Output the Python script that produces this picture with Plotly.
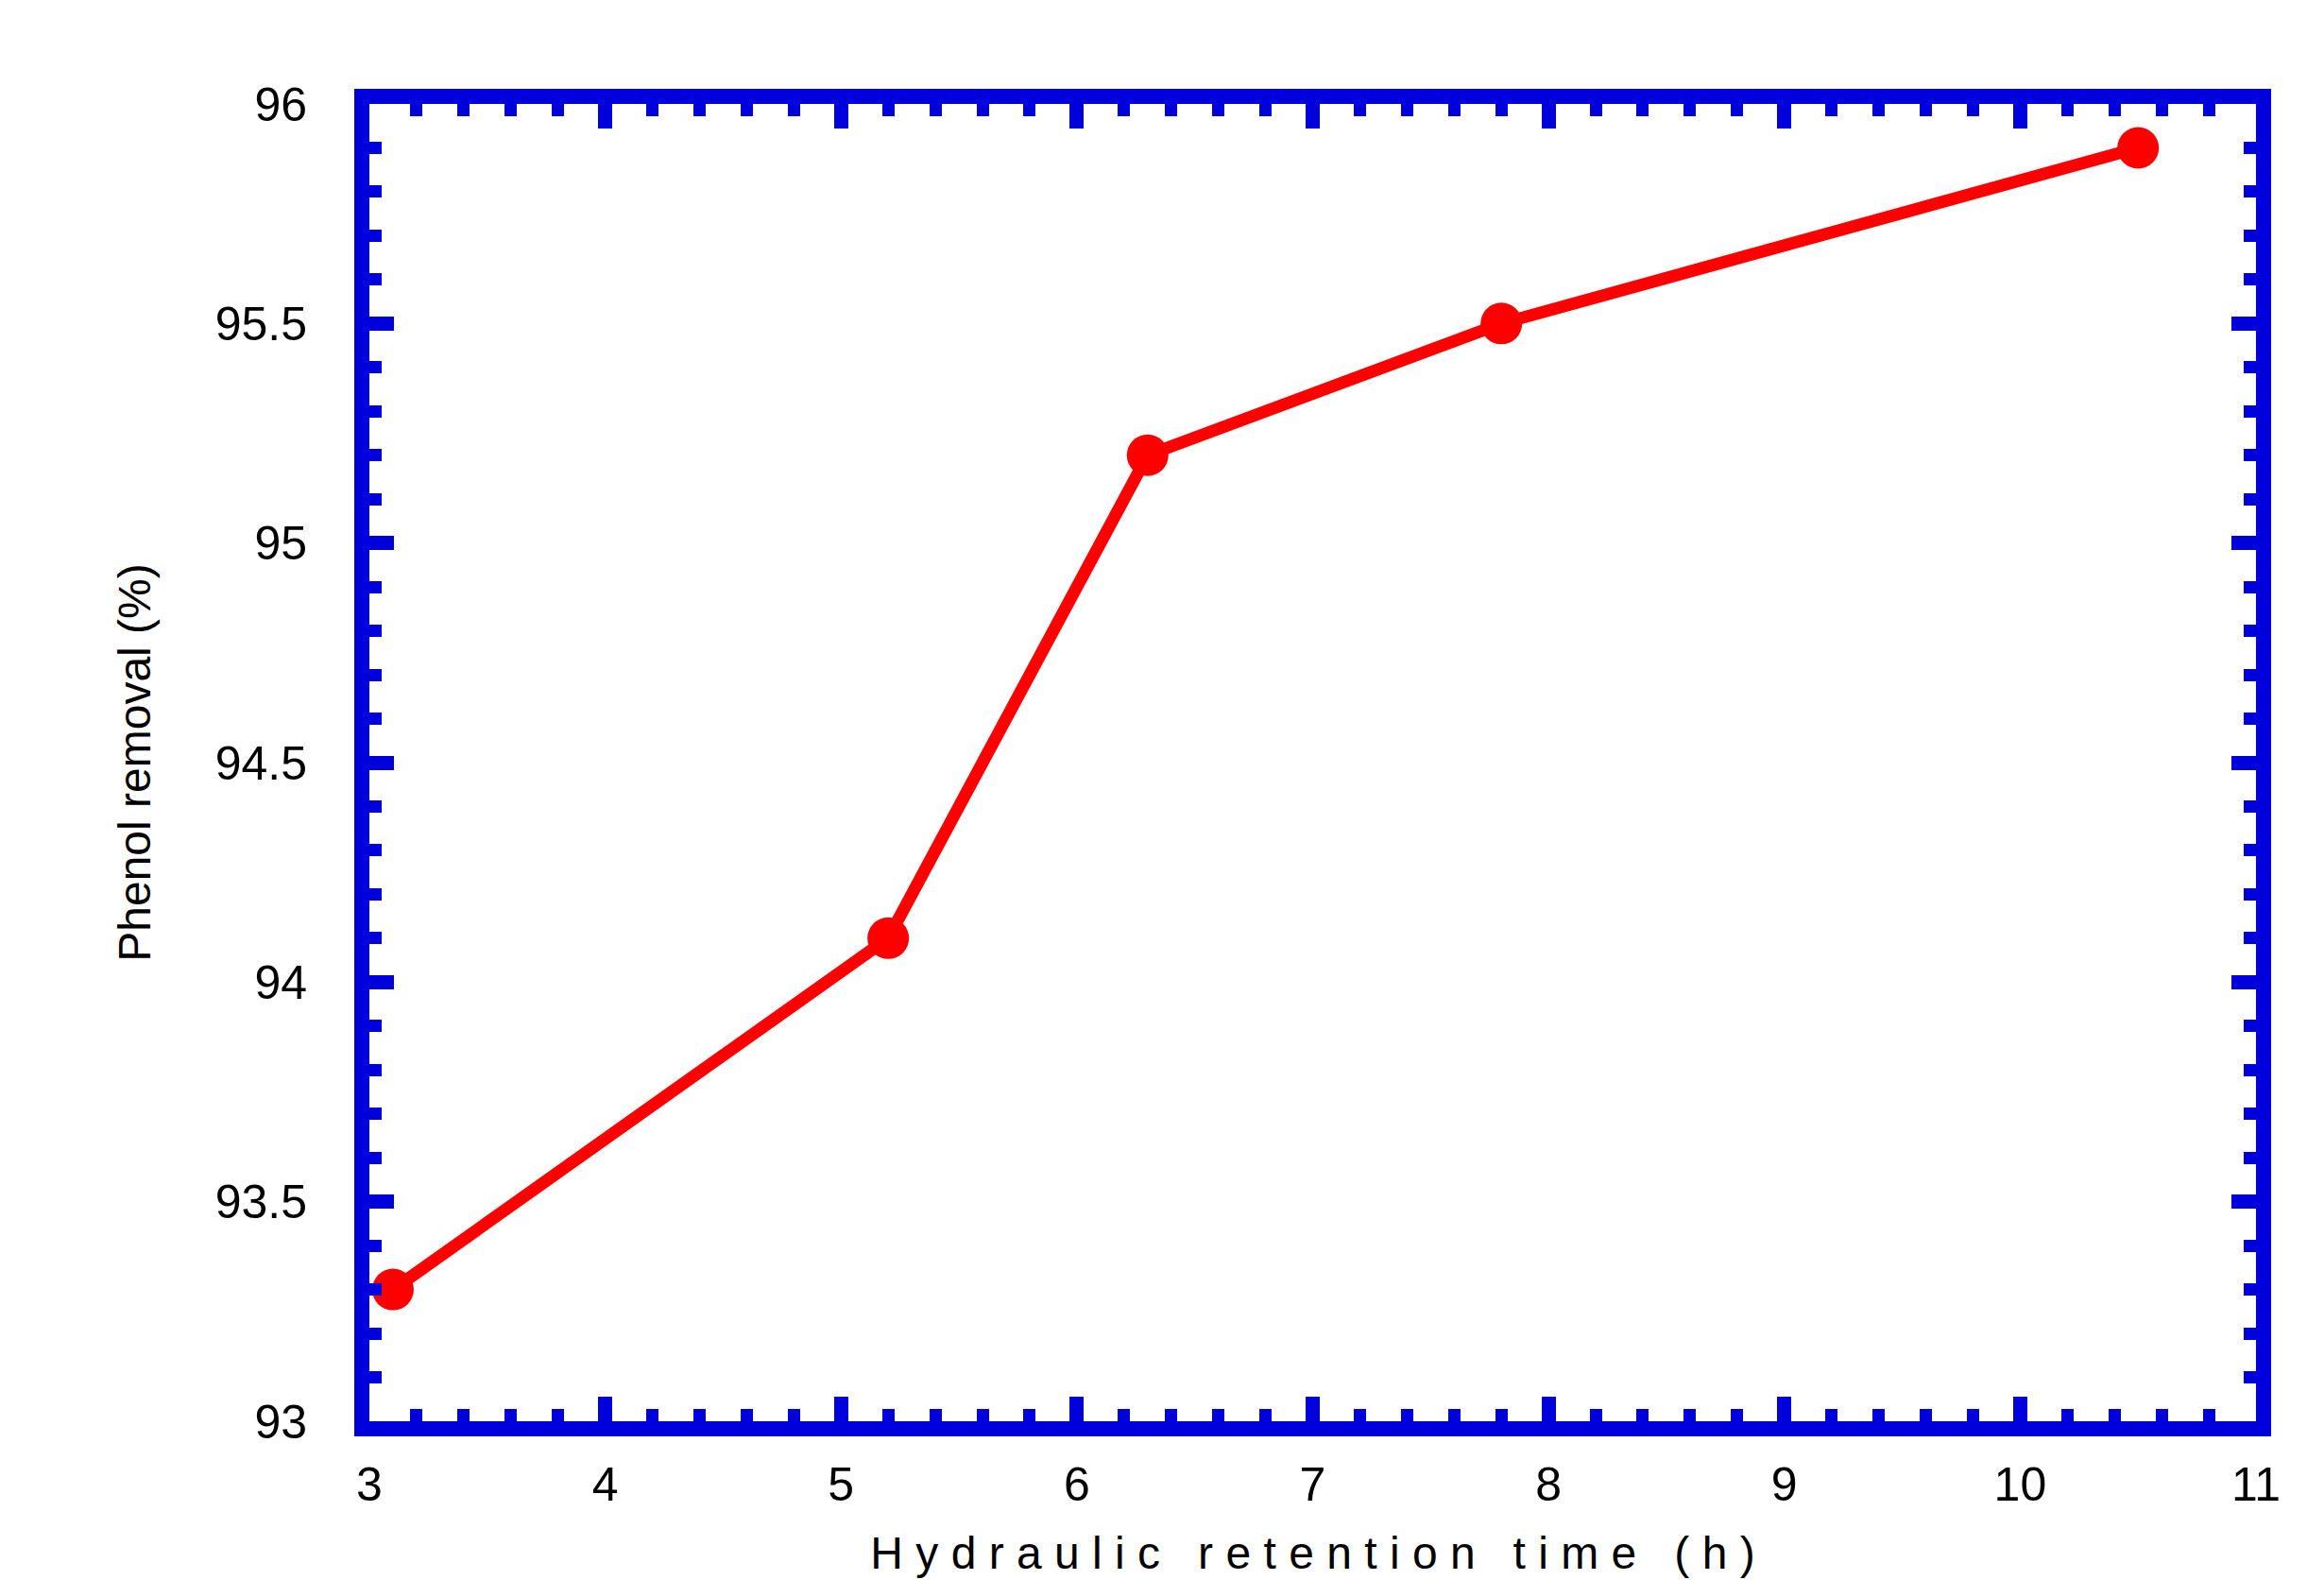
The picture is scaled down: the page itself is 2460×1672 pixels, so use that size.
import plotly.graph_objects as go

hrt = [3.1, 5.2, 6.3, 7.8, 10.5]
removal = [93.3, 94.1, 95.2, 95.5, 95.9]

blue = "#0000DD"
fig = go.Figure(go.Scatter(x=hrt, y=removal, mode="lines+markers",
                           line=dict(color="#FF0000", width=13),
                           marker=dict(color="#FF0000", size=44)))
tf = dict(family="Liberation Sans, Arial", size=50, color="black")
common = dict(showgrid=False, zeroline=False, showline=True, linecolor=blue, linewidth=16,
              mirror="allticks", ticks="inside", ticklen=26, tickwidth=15, tickcolor=blue,
              tickfont=tf)
fig.update_xaxes(range=[3, 11], dtick=1, ticklabelstandoff=8,
                 minor=dict(dtick=0.2, ticks="inside", ticklen=13, tickwidth=13, tickcolor=blue),
                 title=dict(text="H y d r a u l i c   r e t e n t i o n   t i m e   ( h )",
                            font=dict(family="Liberation Sans, Arial", size=48, color="black"),
                            standoff=35),
                 **common)
fig.update_yaxes(range=[93, 96], dtick=0.5, ticklabelstandoff=40,
                 minor=dict(dtick=0.1, ticks="inside", ticklen=13, tickwidth=13, tickcolor=blue),
                 title=dict(text="Phenol removal (%)",
                            font=dict(family="Liberation Sans, Arial", size=48, color="black"),
                            standoff=60),
                 **common)
fig.update_layout(width=2460, height=1672, paper_bgcolor="white", plot_bgcolor="white",
                  showlegend=False, margin=dict(l=383, r=80, t=102, b=166))
fig.write_html("out.html")
